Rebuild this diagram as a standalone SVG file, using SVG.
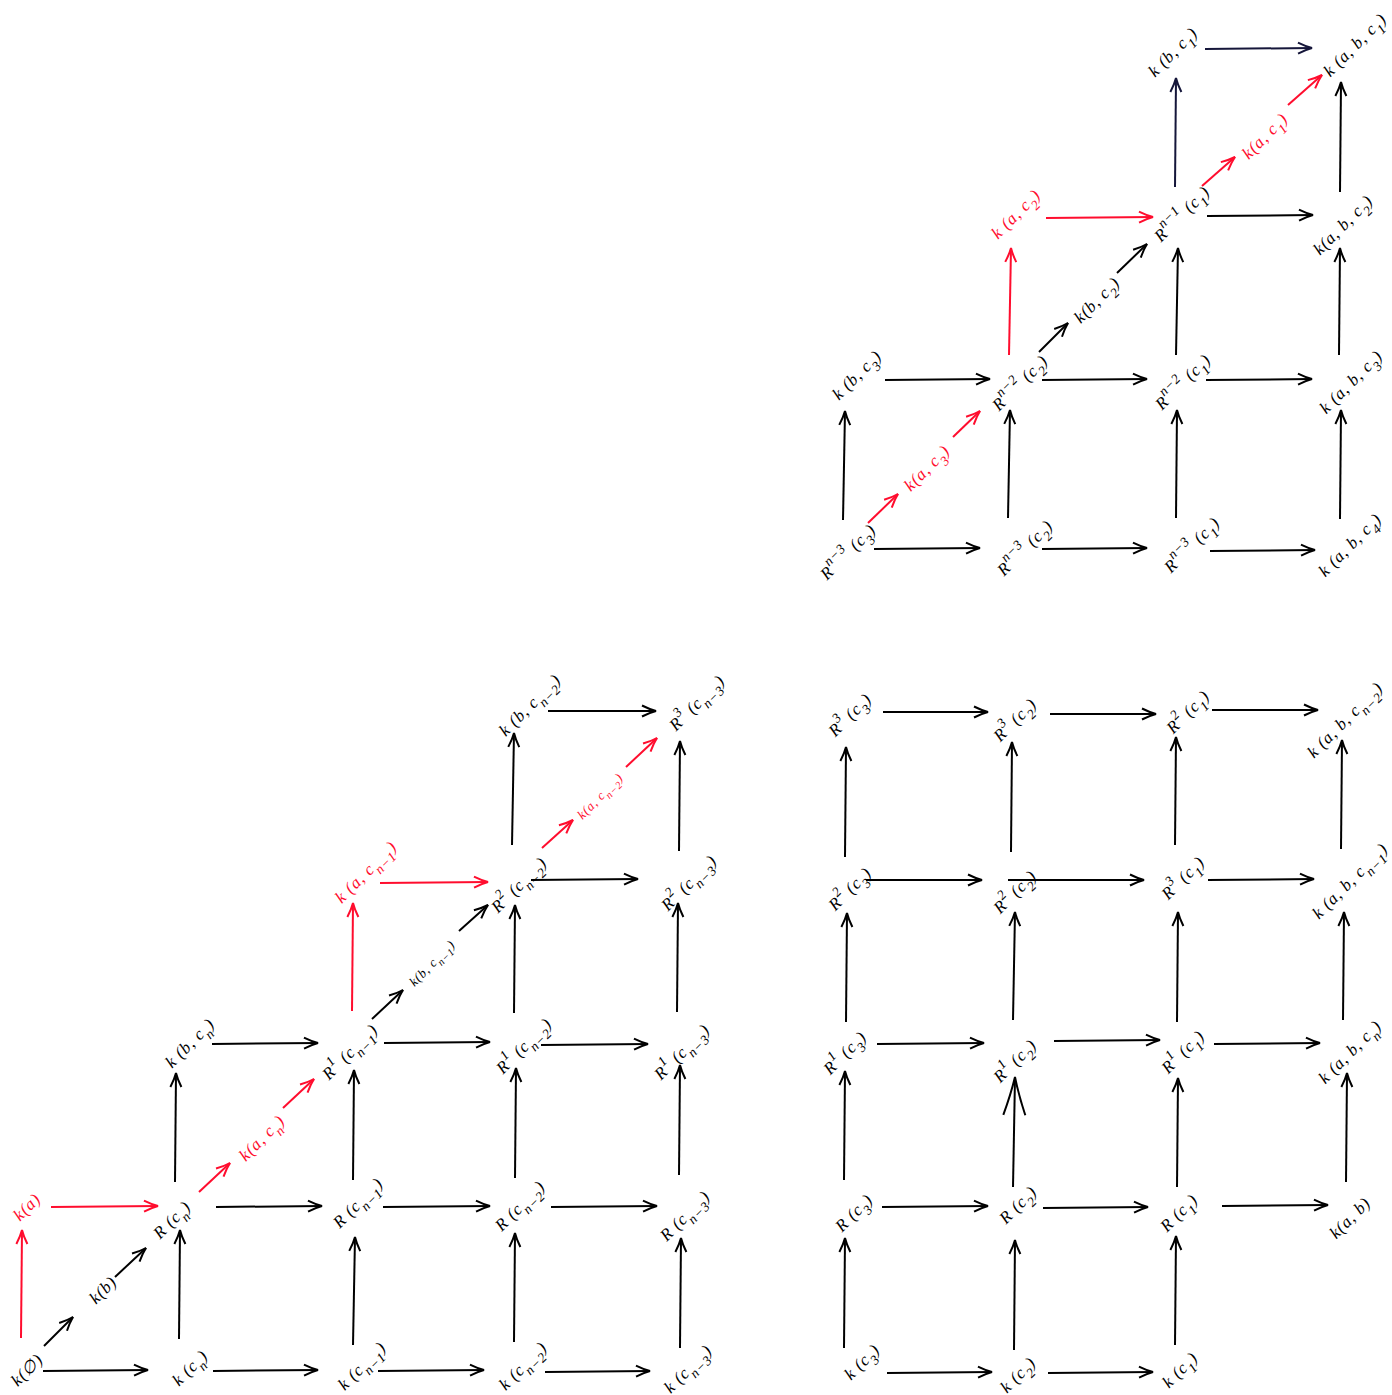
<svg xmlns="http://www.w3.org/2000/svg" width="1392" height="1395" viewBox="0 0 1392 1395">
<style>
.t{font-family:"Liberation Serif",serif;font-style:italic;font-size:17px;fill:#000;text-anchor:middle;dominant-baseline:central;letter-spacing:0.8px}
.r{fill:#ff0d2e}
.s{font-size:13px}
.b{font-size:80%}
.e{stroke:#000;stroke-width:2;fill:none;marker-end:url(#ah)}
.er{stroke:#ff0d2e;stroke-width:2;fill:none;marker-end:url(#ahr)}
.en{stroke:#15163a;stroke-width:2;fill:none;marker-end:url(#ahn)}
</style>
<defs>
<marker id="ah" markerUnits="userSpaceOnUse" markerWidth="18" markerHeight="14" refX="15" refY="7" orient="auto"><path d="M1,1.5 Q9,5.5 15,7 Q9,8.5 1,12.5" fill="none" stroke="#000" stroke-width="2"/></marker>
<marker id="ahr" markerUnits="userSpaceOnUse" markerWidth="18" markerHeight="14" refX="15" refY="7" orient="auto"><path d="M1,1.5 Q9,5.5 15,7 Q9,8.5 1,12.5" fill="none" stroke="#ff0d2e" stroke-width="2"/></marker>
<marker id="ahn" markerUnits="userSpaceOnUse" markerWidth="18" markerHeight="14" refX="15" refY="7" orient="auto"><path d="M1,1.5 Q9,5.5 15,7 Q9,8.5 1,12.5" fill="none" stroke="#15163a" stroke-width="2"/></marker>
<marker id="ahbig" markerUnits="userSpaceOnUse" markerWidth="44" markerHeight="26" refX="40" refY="13" orient="auto"><path d="M2,2 Q22,9 40,13 Q22,17 2,24" fill="none" stroke="#000" stroke-width="2"/></marker>
</defs>
<rect width="1392" height="1395" fill="#fff"/>
<g id="connectors">
<line class="en" x1="1205" y1="49" x2="1312" y2="48"/>
<line class="en" x1="1175" y1="187" x2="1176" y2="78"/>
<line class="e" x1="1340" y1="192" x2="1341" y2="82"/>
<line class="er" x1="1202" y1="186" x2="1235" y2="157"/>
<line class="er" x1="1288" y1="105" x2="1322" y2="75"/>
<line class="er" x1="1046" y1="218" x2="1153" y2="217"/>
<line class="e" x1="1207" y1="216" x2="1313" y2="215"/>
<line class="er" x1="1009" y1="355" x2="1011" y2="248"/>
<line class="e" x1="1039" y1="352" x2="1068" y2="323"/>
<line class="e" x1="1117" y1="273" x2="1147" y2="244"/>
<line class="e" x1="1176" y1="355" x2="1178" y2="248"/>
<line class="e" x1="1339" y1="355" x2="1340" y2="248"/>
<line class="e" x1="885" y1="380" x2="990" y2="379"/>
<line class="e" x1="1042" y1="380" x2="1147" y2="379"/>
<line class="e" x1="1206" y1="380" x2="1312" y2="379"/>
<line class="e" x1="843" y1="520" x2="845" y2="411"/>
<line class="er" x1="868" y1="523" x2="898" y2="494"/>
<line class="er" x1="953" y1="437" x2="980" y2="411"/>
<line class="e" x1="1008" y1="518" x2="1010" y2="410"/>
<line class="e" x1="1176" y1="518" x2="1177" y2="410"/>
<line class="e" x1="1340" y1="519" x2="1341" y2="410"/>
<line class="e" x1="874" y1="549" x2="980" y2="548"/>
<line class="e" x1="1042" y1="549" x2="1147" y2="548"/>
<line class="e" x1="1210" y1="551" x2="1315" y2="550"/>
<line class="e" x1="43" y1="1371" x2="148" y2="1370"/>
<line class="e" x1="213" y1="1371" x2="318" y2="1370"/>
<line class="e" x1="378" y1="1371" x2="484" y2="1370"/>
<line class="e" x1="545" y1="1372" x2="650" y2="1371"/>
<line class="er" x1="21" y1="1338" x2="22" y2="1230"/>
<line class="e" x1="44" y1="1346" x2="73" y2="1317"/>
<line class="e" x1="115" y1="1277" x2="146" y2="1248"/>
<line class="e" x1="179" y1="1339" x2="180" y2="1230"/>
<line class="e" x1="353" y1="1345" x2="355" y2="1237"/>
<line class="e" x1="514" y1="1342" x2="515" y2="1233"/>
<line class="e" x1="680" y1="1348" x2="681" y2="1238"/>
<line class="er" x1="51" y1="1207" x2="158" y2="1206"/>
<line class="e" x1="216" y1="1207" x2="322" y2="1206"/>
<line class="e" x1="383" y1="1207" x2="490" y2="1206"/>
<line class="e" x1="551" y1="1207" x2="657" y2="1206"/>
<line class="e" x1="175" y1="1182" x2="176" y2="1073"/>
<line class="er" x1="199" y1="1192" x2="230" y2="1163"/>
<line class="er" x1="283" y1="1108" x2="314" y2="1079"/>
<line class="e" x1="353" y1="1180" x2="354" y2="1070"/>
<line class="e" x1="515" y1="1178" x2="516" y2="1068"/>
<line class="e" x1="679" y1="1175" x2="680" y2="1065"/>
<line class="e" x1="212" y1="1044" x2="318" y2="1043"/>
<line class="e" x1="384" y1="1043" x2="490" y2="1042"/>
<line class="e" x1="541" y1="1045" x2="648" y2="1044"/>
<line class="er" x1="352" y1="1011" x2="353" y2="903"/>
<line class="e" x1="372" y1="1019" x2="403" y2="990"/>
<line class="e" x1="459" y1="931" x2="488" y2="905"/>
<line class="e" x1="514" y1="1013" x2="515" y2="905"/>
<line class="e" x1="677" y1="1012" x2="678" y2="903"/>
<line class="er" x1="380" y1="883" x2="488" y2="882"/>
<line class="e" x1="531" y1="880" x2="638" y2="879"/>
<line class="e" x1="512" y1="845" x2="514" y2="733"/>
<line class="er" x1="542" y1="848" x2="573" y2="820"/>
<line class="er" x1="626" y1="767" x2="657" y2="738"/>
<line class="e" x1="679" y1="851" x2="680" y2="741"/>
<line class="e" x1="548" y1="711" x2="656" y2="711"/>
<line class="e" x1="887" y1="1373" x2="992" y2="1372"/>
<line class="e" x1="1048" y1="1373" x2="1153" y2="1372"/>
<line class="e" x1="844" y1="1348" x2="845" y2="1238"/>
<line class="e" x1="1014" y1="1350" x2="1015" y2="1240"/>
<line class="e" x1="1175" y1="1345" x2="1176" y2="1236"/>
<line class="e" x1="882" y1="1207" x2="988" y2="1206"/>
<line class="e" x1="1043" y1="1208" x2="1148" y2="1207"/>
<line class="e" x1="1222" y1="1206" x2="1328" y2="1205"/>
<line class="e" x1="844" y1="1180" x2="845" y2="1071"/>
<line x1="1013" y1="1187" x2="1015" y2="1077" stroke="#000" stroke-width="2" fill="none" marker-end="url(#ahbig)"/>
<line class="e" x1="1177" y1="1187" x2="1178" y2="1078"/>
<line class="e" x1="1346" y1="1182" x2="1347" y2="1073"/>
<line class="e" x1="877" y1="1044" x2="984" y2="1043"/>
<line class="e" x1="1054" y1="1041" x2="1160" y2="1040"/>
<line class="e" x1="1214" y1="1044" x2="1320" y2="1043"/>
<line class="e" x1="846" y1="1022" x2="847" y2="913"/>
<line class="e" x1="1013" y1="1020" x2="1015" y2="912"/>
<line class="e" x1="1177" y1="1022" x2="1178" y2="912"/>
<line class="e" x1="1343" y1="1020" x2="1344" y2="912"/>
<line class="e" x1="866" y1="880" x2="982" y2="880"/>
<line class="e" x1="1008" y1="880" x2="1144" y2="880"/>
<line class="e" x1="1208" y1="880" x2="1314" y2="879"/>
<line class="e" x1="845" y1="857" x2="846" y2="747"/>
<line class="e" x1="1011" y1="852" x2="1012" y2="742"/>
<line class="e" x1="1175" y1="845" x2="1176" y2="737"/>
<line class="e" x1="1341" y1="849" x2="1342" y2="740"/>
<line class="e" x1="883" y1="712" x2="988" y2="712"/>
<line class="e" x1="1050" y1="714" x2="1156" y2="714"/>
<line class="e" x1="1212" y1="710" x2="1318" y2="710"/>
</g>
<g id="kb_c1" transform="translate(1173,52) rotate(-45)"><text class="t">k (b, c<tspan class="b" baseline-shift="sub">1</tspan>)</text></g>
<g id="kab_c1" transform="translate(1355,45) rotate(-45)"><text class="t">k (a, b, c<tspan class="b" baseline-shift="sub">1</tspan>)</text></g>
<g id="ka_c2" transform="translate(1016,214) rotate(-45)"><text class="t r">k (a, c<tspan class="b" baseline-shift="sub">2</tspan>)</text></g>
<g id="Rn1_c1" transform="translate(1182,214) rotate(-45)"><text class="t">R<tspan class="b" baseline-shift="super">n−1</tspan> (c<tspan class="b" baseline-shift="sub">1</tspan>)</text></g>
<g id="ka_c1" transform="translate(1265,136) rotate(-45)"><text class="t r">k(a, c<tspan class="b" baseline-shift="sub">1</tspan>)</text></g>
<g id="kab_c2" transform="translate(1343,225) rotate(-45)"><text class="t">k(a, b, c<tspan class="b" baseline-shift="sub">2</tspan>)</text></g>
<g id="kb_c2" transform="translate(1097,300) rotate(-45)"><text class="t">k(b, c<tspan class="b" baseline-shift="sub">2</tspan>)</text></g>
<g id="kb_c3" transform="translate(857,375) rotate(-45)"><text class="t">k (b, c<tspan class="b" baseline-shift="sub">3</tspan>)</text></g>
<g id="Rn2_c2" transform="translate(1020,383) rotate(-45)"><text class="t">R<tspan class="b" baseline-shift="super">n−2</tspan> (c<tspan class="b" baseline-shift="sub">2</tspan>)</text></g>
<g id="Rn2_c1" transform="translate(1183,382) rotate(-45)"><text class="t">R<tspan class="b" baseline-shift="super">n−2</tspan> (c<tspan class="b" baseline-shift="sub">1</tspan>)</text></g>
<g id="kab_c3" transform="translate(1351,382) rotate(-45)"><text class="t">k (a, b, c<tspan class="b" baseline-shift="sub">3</tspan>)</text></g>
<g id="ka_c3" transform="translate(927,468) rotate(-45)"><text class="t r">k(a, c<tspan class="b" baseline-shift="sub">3</tspan>)</text></g>
<g id="Rn3_c3" transform="translate(848,552) rotate(-45)"><text class="t">R<tspan class="b" baseline-shift="super">n−3</tspan> (c<tspan class="b" baseline-shift="sub">3</tspan>)</text></g>
<g id="Rn3_c2" transform="translate(1025,548) rotate(-45)"><text class="t">R<tspan class="b" baseline-shift="super">n−3</tspan> (c<tspan class="b" baseline-shift="sub">2</tspan>)</text></g>
<g id="Rn3_c1" transform="translate(1192,545) rotate(-45)"><text class="t">R<tspan class="b" baseline-shift="super">n−3</tspan> (c<tspan class="b" baseline-shift="sub">1</tspan>)</text></g>
<g id="kab_c4" transform="translate(1350,545) rotate(-45)"><text class="t">k (a, b, c<tspan class="b" baseline-shift="sub">4</tspan>)</text></g>
<g id="k_empty" transform="translate(27,1370) rotate(-45)"><text class="t">k(∅)</text></g>
<g id="k_cn" transform="translate(190,1368) rotate(-45)"><text class="t">k (c<tspan class="b" baseline-shift="sub">n</tspan>)</text></g>
<g id="k_cn1" transform="translate(362,1366) rotate(-45)"><text class="t">k (c<tspan class="b" baseline-shift="sub">n−1</tspan>)</text></g>
<g id="k_cn2" transform="translate(523,1366) rotate(-45)"><text class="t">k (c<tspan class="b" baseline-shift="sub">n−2</tspan>)</text></g>
<g id="k_cn3" transform="translate(688,1369) rotate(-45)"><text class="t">k (c<tspan class="b" baseline-shift="sub">n−3</tspan>)</text></g>
<g id="k_b" transform="translate(103,1290) rotate(-45)"><text class="t">k(b)</text></g>
<g id="k_a" transform="translate(27,1207) rotate(-45)"><text class="t r">k(a)</text></g>
<g id="R_cn" transform="translate(172,1220) rotate(-45)"><text class="t">R (c<tspan class="b" baseline-shift="sub">n</tspan>)</text></g>
<g id="R_cn1" transform="translate(358,1203) rotate(-45)"><text class="t">R (c<tspan class="b" baseline-shift="sub">n−1</tspan>)</text></g>
<g id="R_cn2" transform="translate(520,1206) rotate(-45)"><text class="t">R (c<tspan class="b" baseline-shift="sub">n−2</tspan>)</text></g>
<g id="R_cn3" transform="translate(685,1216) rotate(-45)"><text class="t">R (c<tspan class="b" baseline-shift="sub">n−3</tspan>)</text></g>
<g id="ka_cn" transform="translate(262,1138) rotate(-45)"><text class="t r">k(a, c<tspan class="b" baseline-shift="sub">n</tspan>)</text></g>
<g id="kb_cn" transform="translate(190,1043) rotate(-45)"><text class="t">k (b,  c<tspan class="b" baseline-shift="sub">n</tspan>)</text></g>
<g id="R1_cn1" transform="translate(350,1052) rotate(-45)"><text class="t">R<tspan class="b" baseline-shift="super">1</tspan> (c<tspan class="b" baseline-shift="sub">n−1</tspan>)</text></g>
<g id="R1_cn2" transform="translate(524,1046) rotate(-45)"><text class="t">R<tspan class="b" baseline-shift="super">1</tspan> (c<tspan class="b" baseline-shift="sub">n−2</tspan>)</text></g>
<g id="R1_cn3" transform="translate(682,1052) rotate(-45)"><text class="t">R<tspan class="b" baseline-shift="super">1</tspan> (c<tspan class="b" baseline-shift="sub">n−3</tspan>)</text></g>
<g id="kb_cn1" transform="translate(432,963) rotate(-45)"><text class="t s">k(b, c<tspan class="b" baseline-shift="sub">n−1</tspan>)</text></g>
<g id="ka_cn1" transform="translate(366,872) rotate(-45)"><text class="t r">k (a, c<tspan class="b" baseline-shift="sub">n−1</tspan>)</text></g>
<g id="R2_cn2" transform="translate(519,885) rotate(-45)"><text class="t">R<tspan class="b" baseline-shift="super">2</tspan> (c<tspan class="b" baseline-shift="sub">n−2</tspan>)</text></g>
<g id="R2_cn3" transform="translate(689,883) rotate(-45)"><text class="t">R<tspan class="b" baseline-shift="super">2</tspan> (c<tspan class="b" baseline-shift="sub">n−3</tspan>)</text></g>
<g id="ka_cn2" transform="translate(600,796) rotate(-45)"><text class="t r s">k(a, c<tspan class="b" baseline-shift="sub">n−2</tspan>)</text></g>
<g id="kb_cn2" transform="translate(530,705) rotate(-45)"><text class="t">k (b, c<tspan class="b" baseline-shift="sub">n−2</tspan>)</text></g>
<g id="R3_cn3" transform="translate(697,703) rotate(-45)"><text class="t">R<tspan class="b" baseline-shift="super">3</tspan> (c<tspan class="b" baseline-shift="sub">n−3</tspan>)</text></g>
<g id="k_c3" transform="translate(862,1362) rotate(-45)"><text class="t">k (c<tspan class="b" baseline-shift="sub">3</tspan>)</text></g>
<g id="k_c2" transform="translate(1018,1375) rotate(-45)"><text class="t">k (c<tspan class="b" baseline-shift="sub">2</tspan>)</text></g>
<g id="k_c1" transform="translate(1180,1370) rotate(-45)"><text class="t">k (c<tspan class="b" baseline-shift="sub">1</tspan>)</text></g>
<g id="R_c3" transform="translate(854,1213) rotate(-45)"><text class="t">R (c<tspan class="b" baseline-shift="sub">3</tspan>)</text></g>
<g id="R_c2" transform="translate(1018,1205) rotate(-45)"><text class="t">R (c<tspan class="b" baseline-shift="sub">2</tspan>)</text></g>
<g id="R_c1" transform="translate(1179,1213) rotate(-45)"><text class="t">R (c<tspan class="b" baseline-shift="sub">1</tspan>)</text></g>
<g id="k_ab" transform="translate(1350,1218) rotate(-45)"><text class="t">k(a, b)</text></g>
<g id="R1_c3" transform="translate(845,1053) rotate(-45)"><text class="t">R<tspan class="b" baseline-shift="super">1</tspan> (c<tspan class="b" baseline-shift="sub">3</tspan>)</text></g>
<g id="R1_c2" transform="translate(1015,1061) rotate(-45)"><text class="t">R<tspan class="b" baseline-shift="super">1</tspan> (c<tspan class="b" baseline-shift="sub">2</tspan>)</text></g>
<g id="R1_c1" transform="translate(1183,1052) rotate(-45)"><text class="t">R<tspan class="b" baseline-shift="super">1</tspan> (c<tspan class="b" baseline-shift="sub">1</tspan>)</text></g>
<g id="kab_cn" transform="translate(1350,1052) rotate(-45)"><text class="t">k (a, b, c<tspan class="b" baseline-shift="sub">n</tspan>)</text></g>
<g id="R2_c3" transform="translate(850,889) rotate(-45)"><text class="t">R<tspan class="b" baseline-shift="super">2</tspan> (c<tspan class="b" baseline-shift="sub">3</tspan>)</text></g>
<g id="R2_c2" transform="translate(1015,892) rotate(-45)"><text class="t">R<tspan class="b" baseline-shift="super">2</tspan> (c<tspan class="b" baseline-shift="sub">2</tspan>)</text></g>
<g id="R3_c1" transform="translate(1183,878) rotate(-45)"><text class="t">R<tspan class="b" baseline-shift="super">3</tspan> (c<tspan class="b" baseline-shift="sub">1</tspan>)</text></g>
<g id="kab_cn1" transform="translate(1350,881) rotate(-45)"><text class="t">k (a, b, c<tspan class="b" baseline-shift="sub">n−1</tspan>)</text></g>
<g id="R3_c3" transform="translate(850,715) rotate(-45)"><text class="t">R<tspan class="b" baseline-shift="super">3</tspan> (c<tspan class="b" baseline-shift="sub">3</tspan>)</text></g>
<g id="R3_c2" transform="translate(1015,720) rotate(-45)"><text class="t">R<tspan class="b" baseline-shift="super">3</tspan> (c<tspan class="b" baseline-shift="sub">2</tspan>)</text></g>
<g id="R2_c1" transform="translate(1188,712) rotate(-45)"><text class="t">R<tspan class="b" baseline-shift="super">2</tspan> (c<tspan class="b" baseline-shift="sub">1</tspan>)</text></g>
<g id="kab_cn2" transform="translate(1345,720) rotate(-45)"><text class="t">k (a, b, c<tspan class="b" baseline-shift="sub">n−2</tspan>)</text></g>
</svg>
